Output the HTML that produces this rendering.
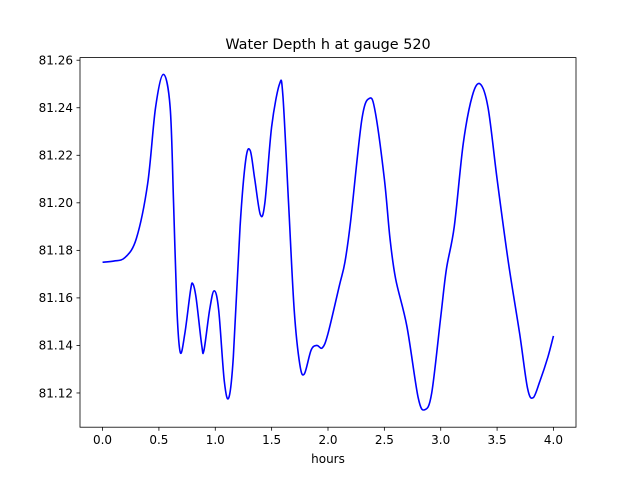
<!DOCTYPE html>
<html><head><meta charset="utf-8"><style>
body{margin:0;background:#fff;}
svg text{font-family:"DejaVu Sans","Liberation Sans",sans-serif;fill:#000;}
</style></head><body>
<svg id="chart" width="640" height="480">
<rect width="640" height="480" fill="#fff"/>
<text x="328" y="49" text-anchor="middle" font-size="14.4">Water Depth h at gauge 520</text>
<g id="axes"></g>
<path id="line" fill="none" stroke="#0000ff" stroke-width="1.6"/>
<rect x="80" y="57.6" width="496" height="369.6" fill="none" stroke="#000" stroke-width="0.8"/>
<text x="328" y="463" text-anchor="middle" font-size="12">hours</text>
</svg>
<script>
const hours=[0,0.1,0.2,0.3,0.4,0.47,0.54,0.6,0.63,0.66,0.69,0.73,0.78,0.8,0.83,0.88,0.9,0.95,0.99,1.03,1.08,1.12,1.16,1.22,1.27,1.31,1.35,1.4,1.44,1.5,1.57,1.6,1.65,1.7,1.75,1.79,1.85,1.9,1.95,2.0,2.1,2.15,2.2,2.3,2.37,2.42,2.5,2.55,2.6,2.7,2.8,2.86,2.92,3.0,3.05,3.12,3.2,3.28,3.35,3.42,3.5,3.6,3.7,3.77,3.82,3.88,3.95,4.0];
const depth=[81.175,81.1755,81.177,81.185,81.208,81.24,81.254,81.24,81.2,81.155,81.137,81.145,81.163,81.166,81.16,81.14,81.138,81.155,81.163,81.155,81.125,81.118,81.135,81.19,81.218,81.222,81.21,81.195,81.2,81.232,81.25,81.245,81.2,81.155,81.132,81.128,81.138,81.14,81.139,81.145,81.165,81.175,81.192,81.235,81.244,81.238,81.21,81.185,81.168,81.148,81.118,81.113,81.12,81.152,81.172,81.19,81.225,81.245,81.25,81.24,81.21,81.175,81.145,81.122,81.118,81.125,81.135,81.144];
const xTicks=["0.0","0.5","1.0","1.5","2.0","2.5","3.0","3.5","4.0"];
const yTicks=["81.12","81.14","81.16","81.18","81.20","81.22","81.24","81.26"];
const X0=80,X1=576,Y0=427.2,Y1=57.6,xmin=-0.2,xmax=4.2,ymin=81.1056,ymax=81.2611;
const sx=v=>X0+(v-xmin)/(xmax-xmin)*(X1-X0);
const sy=v=>Y0-(v-ymin)/(ymax-ymin)*(Y0-Y1);
const ns="http://www.w3.org/2000/svg",ax=document.getElementById('axes');
function mk(t,a){const e=document.createElementNS(ns,t);for(const k in a)e.setAttribute(k,a[k]);ax.appendChild(e);return e;}
xTicks.forEach(t=>{const x=sx(+t);
const l=mk('line',{x1:x,x2:x,y1:Y0,y2:Y0+3.5,stroke:'#000','stroke-width':0.8});


const tx=mk('text',{x:x,y:Y0+17,'text-anchor':'middle','font-size':12});tx.textContent=t;

});
yTicks.forEach(t=>{const y=sy(+t);
const l=mk('line',{x1:X0-3.5,x2:X0,y1:y,y2:y,stroke:'#000','stroke-width':0.8});


const tx=mk('text',{x:X0-7,y:y+4.3,'text-anchor':'end','font-size':12});tx.textContent=t;

});
const P=hours.map((h,i)=>[sx(h),sy(depth[i])]);
let d='M'+P[0][0]+','+P[0][1];
for(let i=0;i<P.length-1;i++){const p0=P[Math.max(0,i-1)],p1=P[i],p2=P[i+1],p3=P[Math.min(P.length-1,i+2)];
d+=' C'+(p1[0]+(p2[0]-p0[0])/6)+','+(p1[1]+(p2[1]-p0[1])/6)+' '+(p2[0]-(p3[0]-p1[0])/6)+','+(p2[1]-(p3[1]-p1[1])/6)+' '+p2[0]+','+p2[1];}
document.getElementById('line').setAttribute('d',d);
</script>
</body></html>
